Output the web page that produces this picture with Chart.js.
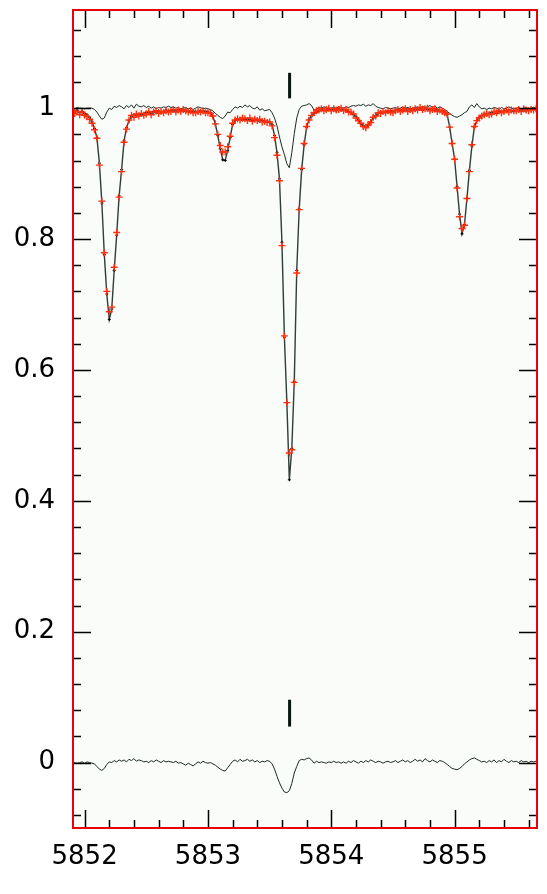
<!DOCTYPE html>
<html>
<head>
<meta charset="utf-8">
<script src="https://cdn.jsdelivr.net/npm/chart.js@4/dist/chart.umd.min.js"></script>
<style>
  html, body { margin: 0; padding: 0; background: #fff; }
  canvas { display: block; }
</style>
</head>
<body>
<canvas id="grafico" width="547" height="894"></canvas>
<script>
// grade em comprimento de onda (Angstrom): inicio + passo, como no cabecalho do espectro
const lambdaInicio = 5851.90;
const passo = 0.02;

// espectro escuro (linha com pequenas cruzes)
const fluxoModelo = [
  0.996, 0.994, 0.997, 0.993, 0.995, 0.992, 0.990, 0.986, 0.979, 0.969,
  0.955, 0.916, 0.855, 0.776, 0.716, 0.677, 0.693, 0.752, 0.806, 0.866,
  0.906, 0.950, 0.970, 0.981, 0.987, 0.990, 0.989, 0.991, 0.990, 0.992,
  0.993, 0.994, 0.992, 0.995, 0.993, 0.996, 0.994, 0.995, 0.997, 0.995,
  0.996, 0.997, 0.995, 0.998, 0.996, 0.997, 0.995, 0.996, 0.994, 0.995,
  0.995, 0.994, 0.996, 0.994, 0.995, 0.994, 0.993, 0.987, 0.976, 0.958,
  0.938, 0.921, 0.920, 0.935, 0.955, 0.975, 0.981, 0.983, 0.984, 0.982,
  0.983, 0.982, 0.984, 0.981, 0.983, 0.982, 0.980, 0.981, 0.979, 0.980,
  0.979, 0.975, 0.958, 0.932, 0.892, 0.795, 0.650, 0.550, 0.432, 0.480,
  0.582, 0.752, 0.846, 0.906, 0.944, 0.971, 0.983, 0.988, 0.992, 0.994,
  0.996, 0.997, 0.998, 0.996, 0.999, 0.997, 0.998, 0.996, 0.999, 0.997,
  0.998, 0.996, 0.995, 0.993, 0.990, 0.987, 0.982, 0.976, 0.973, 0.971,
  0.974, 0.979, 0.985, 0.989, 0.992, 0.994, 0.993, 0.995, 0.994, 0.996,
  0.995, 0.997, 0.996, 0.998, 0.996, 0.997, 0.999, 0.996, 0.998, 0.997,
  0.998, 0.999, 0.997, 1.000, 0.998, 0.997, 0.999, 0.996, 0.998, 0.995,
  0.996, 0.994, 0.990, 0.971, 0.946, 0.922, 0.880, 0.838, 0.808, 0.822,
  0.862, 0.905, 0.942, 0.971, 0.981, 0.986, 0.989, 0.991, 0.990, 0.992,
  0.993, 0.994, 0.992, 0.995, 0.994, 0.996, 0.995, 0.997, 0.996, 0.995,
  0.997, 0.996, 0.998, 0.997, 0.996, 0.998, 0.997, 0.999, 0.998
];

// pontos observados (cruzes vermelhas)
const fluxoObs = [
  0.997, 0.992, 0.995, 0.990, 0.994, 0.989, 0.987, 0.983, 0.977, 0.967,
  0.954, 0.913, 0.858, 0.779, 0.720, 0.689, 0.696, 0.757, 0.810, 0.864,
  0.903, 0.948, 0.968, 0.982, 0.989, 0.986, 0.991, 0.988, 0.992, 0.989,
  0.991, 0.995, 0.990, 0.994, 0.996, 0.992, 0.995, 0.993, 0.996, 0.994,
  0.995, 0.998, 0.994, 0.997, 0.995, 0.998, 0.996, 0.994, 0.996, 0.993,
  0.993, 0.995, 0.994, 0.996, 0.993, 0.993, 0.992, 0.988, 0.976, 0.960,
  0.943, 0.933, 0.933, 0.941, 0.957, 0.977, 0.982, 0.984, 0.982, 0.985,
  0.984, 0.981, 0.985, 0.980, 0.983, 0.981, 0.983, 0.979, 0.980, 0.978,
  0.979, 0.973, 0.955, 0.928, 0.889, 0.790, 0.652, 0.550, 0.473, 0.478,
  0.581, 0.748, 0.845, 0.908, 0.946, 0.972, 0.982, 0.989, 0.993, 0.996,
  0.997, 0.999, 0.996, 0.998, 1.000, 0.996, 0.999, 0.997, 0.998, 1.000,
  0.996, 0.998, 0.994, 0.994, 0.991, 0.985, 0.981, 0.977, 0.972, 0.970,
  0.975, 0.978, 0.986, 0.988, 0.993, 0.992, 0.995, 0.993, 0.996, 0.994,
  0.993, 0.996, 0.998, 0.995, 0.997, 0.999, 0.995, 0.998, 0.996, 0.999,
  0.997, 1.001, 0.998, 0.999, 1.000, 0.996, 0.998, 0.999, 0.995, 0.997,
  0.995, 0.993, 0.991, 0.971, 0.946, 0.922, 0.878, 0.834, 0.816, 0.821,
  0.862, 0.903, 0.944, 0.972, 0.981, 0.985, 0.988, 0.990, 0.992, 0.990,
  0.991, 0.995, 0.993, 0.996, 0.993, 0.995, 0.997, 0.994, 0.997, 0.996,
  0.996, 0.998, 0.995, 0.999, 0.997, 0.996, 0.998, 0.997, 0.999
];

// linha fina perto de 1
const componente = [
  1.000, 0.999, 1.001, 1.000, 1.000, 0.999, 1.000, 1.000, 1.000, 0.998,
  0.994, 0.988, 0.983, 0.985, 0.994, 1.000, 0.998, 1.003, 1.001, 1.004,
  1.002, 0.999, 1.004, 1.001, 1.005, 1.000, 1.006, 1.003, 1.002, 1.004,
  1.001, 1.003, 1.000, 1.002, 0.999, 1.001, 1.000, 1.002, 1.001, 1.003,
  1.001, 1.002, 1.000, 1.001, 0.999, 1.000, 1.001, 0.999, 1.000, 0.998,
  1.000, 1.002, 1.001, 0.999, 1.000, 0.999, 0.998, 0.996, 0.992, 0.989,
  0.986, 0.984, 0.988, 0.994, 0.993, 0.998, 1.002, 1.000, 1.003, 1.001,
  1.005, 1.002, 1.004, 1.000, 0.999, 1.002, 0.997, 0.999, 0.996, 0.997,
  0.998, 0.993, 0.985, 0.973, 0.956, 0.941, 0.929, 0.915, 0.909, 0.932,
  0.961, 0.985, 0.998, 1.003, 1.004, 1.005, 1.007, 1.004, 0.997, 0.999,
  1.001, 1.000, 1.002, 1.001, 0.999, 1.000, 1.001, 1.000, 1.002, 1.001,
  1.000, 1.002, 1.001, 1.003, 1.004, 1.003, 1.005, 1.004, 1.006, 1.003,
  1.005, 1.004, 1.007, 1.003, 1.001, 1.000, 0.999, 1.001, 1.000, 0.999,
  1.000, 1.001, 0.999, 1.000, 1.002, 1.000, 1.001, 0.999, 1.000, 1.001,
  1.002, 1.000, 1.003, 1.001, 1.002, 1.004, 1.001, 1.003, 1.000, 1.002,
  1.000, 0.998, 0.995, 0.992, 0.989, 0.987, 0.986, 0.988, 0.990, 0.993,
  0.995, 1.002, 1.005, 1.001, 1.007, 1.002, 0.999, 1.000, 0.998, 1.000,
  0.999, 1.001, 1.000, 0.998, 1.001, 0.999, 1.000, 1.002, 1.000, 0.999,
  1.000, 1.001, 0.999, 1.000, 1.001, 0.999, 1.000, 1.001, 1.000
];

// residuo perto de 0
const residuo = [
  -0.001, 0.000, -0.001, 0.000, 0.001, -0.001, 0.001, 0.000, -0.001, -0.002,
  -0.006, -0.010, -0.012, -0.009, -0.003, 0.001, 0.000, 0.003, 0.001, 0.004,
  0.002, 0.004, 0.001, 0.005, 0.003, 0.006, 0.002, 0.004, 0.003, 0.001,
  0.002, 0.000, 0.003, 0.001, 0.004, 0.002, 0.000, 0.003, 0.001, 0.002,
  0.001, 0.000, 0.002, -0.001, 0.000, -0.002, -0.004, -0.001, -0.003, -0.005,
  -0.002, 0.001, -0.001, 0.002, 0.000, -0.001, 0.000, -0.002, -0.004, -0.007,
  -0.010, -0.012, -0.013, -0.008, -0.003, 0.002, 0.004, 0.001, 0.005, 0.002,
  0.003, 0.005, 0.002, 0.004, 0.001, 0.003, 0.000, 0.002, 0.001, 0.003,
  0.002, -0.002, -0.010, -0.021, -0.031, -0.039, -0.045, -0.046, -0.043, -0.032,
  -0.016, -0.006, 0.003, 0.005, 0.004, 0.006, 0.007, 0.004, -0.001, 0.002,
  0.000, 0.001, 0.000, -0.001, 0.001, 0.000, 0.002, 0.000, 0.001, -0.001,
  0.001, -0.001, 0.002, 0.000, 0.003, 0.001, -0.001, 0.002, 0.000, 0.003,
  0.001, 0.004, 0.002, 0.000, 0.002, 0.001, -0.001, 0.001, 0.002, 0.000,
  0.001, 0.003, 0.000, 0.002, 0.004, 0.001, 0.003, 0.000, 0.002, 0.005,
  0.002, 0.004, 0.001, 0.006, 0.003, 0.001, 0.004, 0.002, 0.000, 0.003,
  0.002, 0.000, -0.003, -0.006, -0.009, -0.010, -0.011, -0.009, -0.006, -0.002,
  0.001, 0.004, 0.006, 0.007, 0.005, 0.003, 0.001, 0.002, 0.000, 0.003,
  0.001, 0.004, 0.000, 0.003, 0.001, 0.005, 0.002, 0.000, 0.003, 0.001,
  0.002, 0.000, 0.003, 0.001, 0.002, 0.000, 0.002, 0.001, 0.002
];

// marcas verticais da linha identificada
const marcaLambda = 5853.662;
const marcaTopo = [1.015, 1.054];
const marcaBase = [0.055, 0.096];

// eixos
const xMin = 5851.906, xMax = 5855.668;
const yMin = -0.1, yMax = 1.15;
const xMaiores = [5852, 5853, 5854, 5855];
const xRotulos = ['5852', '5853', '5854', '5855'];
const xMenores = [5852.2, 5852.4, 5852.6, 5852.8, 5853.2, 5853.4, 5853.6, 5853.8,
                  5854.2, 5854.4, 5854.6, 5854.8, 5855.2, 5855.4, 5855.6];
const yMaiores = [0, 0.2, 0.4, 0.6, 0.8, 1];
const yRotulos = ['0', '0.2', '0.4', '0.6', '0.8', '1'];
const yMenores = [-0.08, -0.04, 0.04, 0.08, 0.12, 0.16, 0.24, 0.28, 0.32, 0.36,
                  0.44, 0.48, 0.52, 0.56, 0.64, 0.68, 0.72, 0.76, 0.84, 0.88,
                  0.92, 0.96, 1.04, 1.08, 1.12];

const comprimentos = fluxoObs.map((_, i) => +(lambdaInicio + i * passo).toFixed(2));
const pares = serie => serie.map((v, i) => ({ x: comprimentos[i], y: v }));

// fundo, tiques para dentro nos quatro lados e moldura vermelha
const moldura = {
  id: 'moldura',
  beforeDraw(chart) {
    const { ctx, chartArea: a } = chart;
    ctx.save();
    ctx.fillStyle = '#f9fcf9';
    ctx.fillRect(a.left, a.top, a.right - a.left, a.bottom - a.top);
    ctx.restore();
  },
  afterDraw(chart) {
    const { ctx, chartArea: a, scales } = chart;
    ctx.save();
    ctx.strokeStyle = '#000';
    ctx.lineWidth = 1.5;
    ctx.beginPath();
    const tiqueX = (v, len) => {
      const px = Math.round(scales.x.getPixelForValue(v)) + 0.5;
      ctx.moveTo(px, a.bottom); ctx.lineTo(px, a.bottom - len);
      ctx.moveTo(px, a.top); ctx.lineTo(px, a.top + len);
    };
    const tiqueY = (v, len) => {
      const py = Math.round(scales.y.getPixelForValue(v)) + 0.5;
      ctx.moveTo(a.left, py); ctx.lineTo(a.left + len, py);
      ctx.moveTo(a.right, py); ctx.lineTo(a.right - len, py);
    };
    xMaiores.forEach(v => tiqueX(v, 18));
    xMenores.forEach(v => tiqueX(v, 8));
    yMaiores.forEach(v => tiqueY(v, 18));
    yMenores.forEach(v => tiqueY(v, 8));
    ctx.stroke();
    ctx.strokeStyle = '#e8000a';
    ctx.lineWidth = 2;
    ctx.strokeRect(a.left, a.top, a.right - a.left, a.bottom - a.top);
    ctx.restore();
  }
};

Chart.defaults.font.family = "'DejaVu Sans', sans-serif";
Chart.defaults.color = '#000';

new Chart(document.getElementById('grafico'), {
  type: 'line',
  data: {
    datasets: [
      { data: [{ x: marcaLambda, y: marcaTopo[0] }, { x: marcaLambda, y: marcaTopo[1] }],
        borderColor: '#08160f', borderWidth: 3, pointRadius: 0, order: 0 },
      { data: [{ x: marcaLambda, y: marcaBase[0] }, { x: marcaLambda, y: marcaBase[1] }],
        borderColor: '#08160f', borderWidth: 3, pointRadius: 0, order: 0 },
      { data: pares(fluxoObs), showLine: false, pointStyle: 'cross', pointRadius: 3.5,
        pointBorderColor: '#ff3010', pointBorderWidth: 1.4, order: 1 },
      { data: pares(fluxoModelo), borderColor: 'rgba(25,40,34,0.9)', borderWidth: 1.4,
        pointStyle: 'cross', pointRadius: 1.5, pointBorderColor: '#000', pointBorderWidth: 1,
        order: 2 },
      { data: pares(componente), borderColor: '#1c2b25', borderWidth: 1,
        pointRadius: 0, order: 3 },
      { data: pares(residuo), borderColor: '#1c2b25', borderWidth: 1,
        pointRadius: 0, order: 3 }
    ]
  },
  options: {
    responsive: false,
    animation: false,
    devicePixelRatio: 1,
    layout: { padding: { top: 10, right: 10, left: 0, bottom: 0 } },
    plugins: { legend: { display: false }, tooltip: { enabled: false } },
    elements: { line: { tension: 0, fill: false } },
    scales: {
      x: {
        type: 'linear', min: xMin, max: xMax,
        grid: { display: false, drawTicks: false }, border: { display: false },
        afterBuildTicks: s => { s.ticks = xMaiores.map(v => ({ value: v })); },
        afterFit: s => { s.height = 66; s.paddingLeft = 0; s.paddingRight = 0; },
        ticks: { autoSkip: false, maxRotation: 0, padding: 14, font: { size: 26 },
                 callback: (v, i) => xRotulos[i] }
      },
      y: {
        type: 'linear', min: yMin, max: yMax,
        grid: { display: false, drawTicks: false }, border: { display: false },
        afterBuildTicks: s => { s.ticks = yMaiores.map(v => ({ value: v })); },
        afterFit: s => { s.width = 73; s.paddingTop = 0; s.paddingBottom = 0; },
        ticks: { autoSkip: false, padding: 18, font: { size: 26 },
                 callback: (v, i) => yRotulos[i] }
      }
    }
  },
  plugins: [moldura]
});
</script>
</body>
</html>
